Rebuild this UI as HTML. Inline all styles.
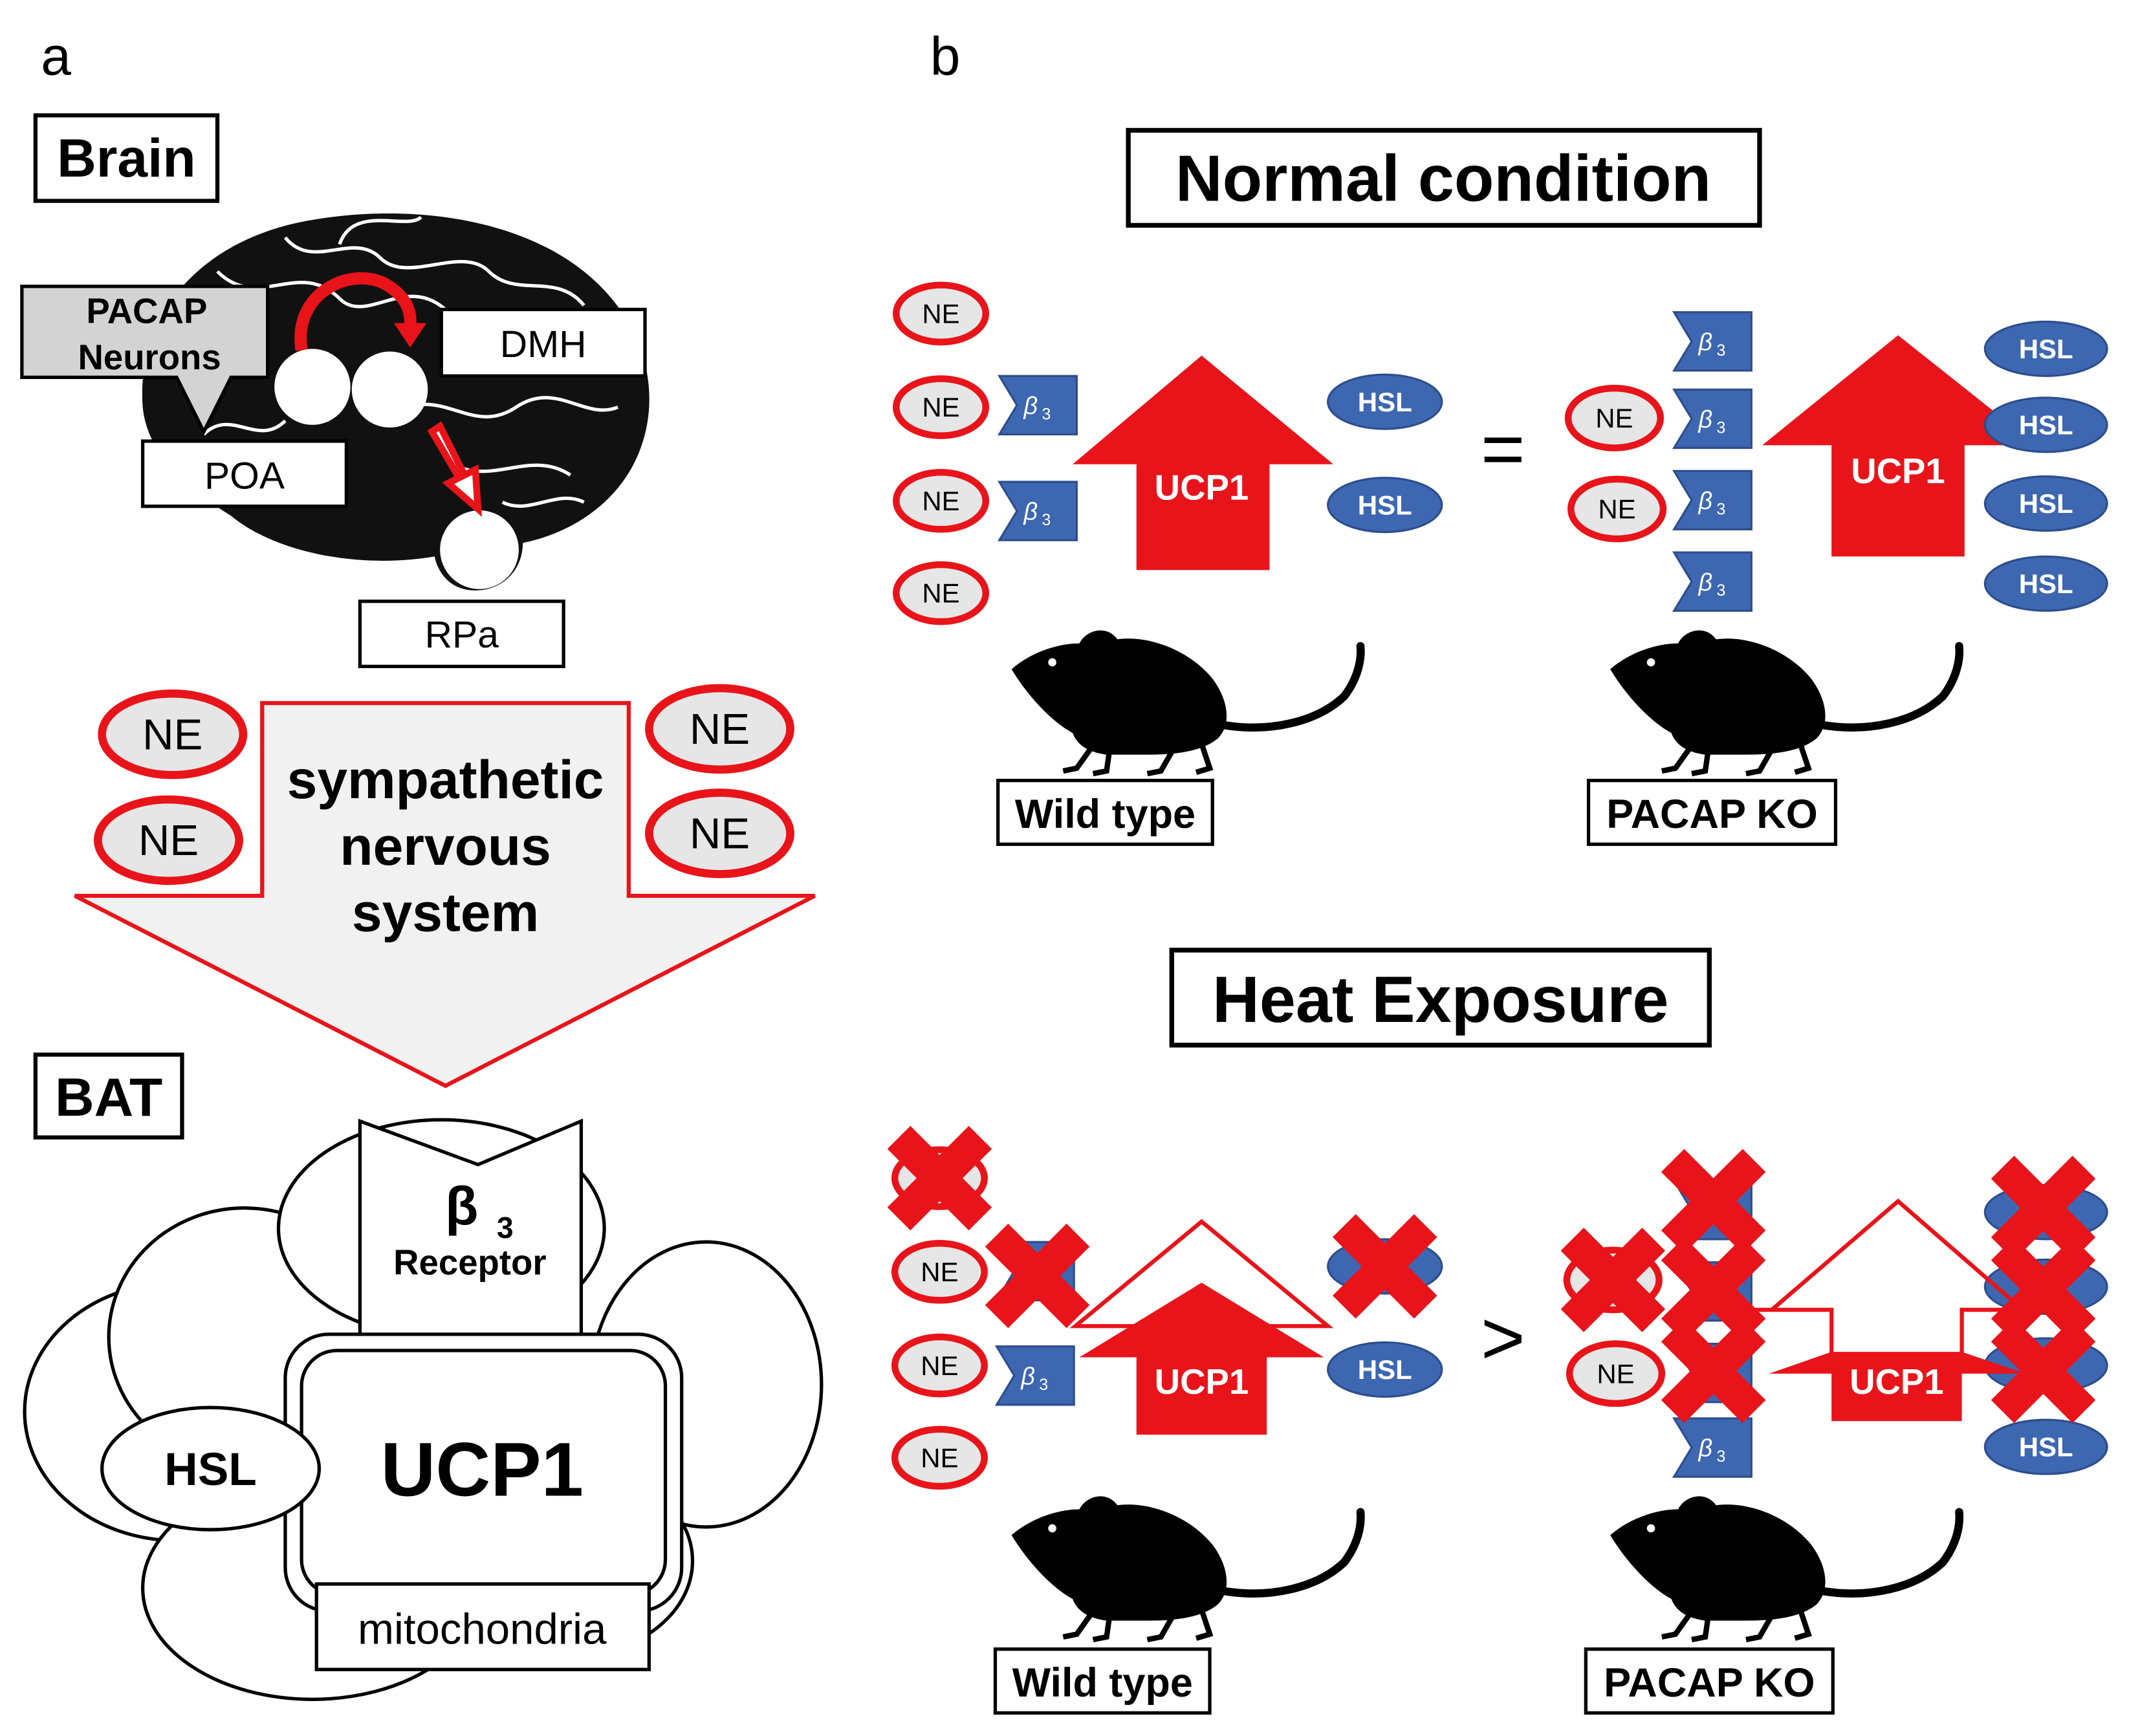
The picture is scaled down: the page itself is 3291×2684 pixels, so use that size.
<!DOCTYPE html>
<html><head><meta charset="utf-8"><style>
html,body{margin:0;padding:0;background:#fff;}
svg{display:block;}
text{font-family:"Liberation Sans",Arial,sans-serif;}
</style></head><body>
<svg width="3291" height="2684" viewBox="0 0 1568 1279" xmlns="http://www.w3.org/2000/svg">
<defs>
<g id="mouse">
 <path d="M0,25 C15,12 35,6 50,6 C55,-4 70,-8 78,3 C100,0 130,10 148,32 C160,48 162,66 152,76 C140,86 120,88 100,88 L70,88 C55,86 48,80 45,72 C30,64 12,45 0,25 Z" fill="#000"/>
 <path d="M155,66 C190,72 225,64 245,45 C255,32 258,18 257,8" fill="none" stroke="#000" stroke-width="6" stroke-linecap="round"/>
 <path d="M58,84 L48,98 L38,100 M72,86 L70,100 L60,102 M118,86 L110,100 L100,102 M140,80 L146,98 L136,101" stroke="#000" stroke-width="4" fill="none"/>
 <circle cx="30" cy="20" r="3" fill="#fff"/>
</g>
<g id="cross">
 <path d="M-30,-30 L30,30 M30,-30 L-30,30" stroke="#e8141a" stroke-width="24"/>
</g>
<polygon id="b3" points="0,0 57,0 57,43 0,43 13,21.5" fill="#3e67b1" stroke="#2c4d8c" stroke-width="1.5"/>
</defs>

<!-- Panel a -->
<text x="30" y="55" font-size="40">a</text>
<rect x="26" y="85" width="134" height="63" fill="#fff" stroke="#000" stroke-width="3"/>
<text x="93" y="130" font-size="40" font-weight="bold" text-anchor="middle">Brain</text>

<path d="M105,300 C100,230 150,175 230,162 C300,150 380,160 430,200 C480,240 490,300 465,345 C445,380 410,395 385,400 C385,420 370,435 350,435 C330,435 322,420 320,410 C260,420 200,405 170,380 C130,355 108,330 105,300 Z" fill="#111"/>
<g stroke="#fff" stroke-width="2.5" fill="none">
<path d="M160,200 C190,230 220,190 250,220 C270,240 300,200 330,230"/>
<path d="M210,175 C230,200 260,170 280,190 C300,210 340,180 360,200 C380,220 410,200 430,225"/>
<path d="M300,300 C330,290 350,320 380,300 C410,280 430,310 455,300"/>
<path d="M330,340 C360,360 390,330 420,350"/>
<path d="M150,320 C170,300 190,330 210,310"/>
<path d="M250,180 C260,150 300,170 310,160"/>
<path d="M400,250 C420,260 440,240 460,260"/>
<path d="M370,370 C390,380 410,360 430,370"/>
</g>
<path d="M16,211 L197,211 L197,278 L170,278 L150,318 L130,278 L16,278 Z" fill="#d3d3d3" stroke="#000" stroke-width="2.5"/>
<text x="108" y="238" font-size="26" font-weight="bold" text-anchor="middle">PACAP</text>
<text x="110" y="272" font-size="26" font-weight="bold" text-anchor="middle">Neurons</text>
<circle cx="230" cy="285" r="28" fill="#fff"/>
<circle cx="287" cy="287" r="28" fill="#fff"/>
<circle cx="353" cy="405" r="29" fill="#fff"/>
<path d="M222,258 C215,215 260,195 285,210 C298,218 303,228 302,240" fill="none" stroke="#e8141a" stroke-width="9"/>
<polygon points="290,238 314,238 302,256" fill="#e8141a"/>
<path d="M318,318 L338,352 L330,356 L352,375 L350,346 L342,350 L324,314 Z" fill="#fff" stroke="#e8141a" stroke-width="5"/>
<rect x="325" y="228" width="150" height="49" fill="#fff" stroke="#000" stroke-width="2.5"/>
<text x="400" y="263" font-size="28" text-anchor="middle">DMH</text>
<rect x="105" y="325" width="150" height="48" fill="#fff" stroke="#000" stroke-width="2.5"/>
<text x="180" y="360" font-size="28" text-anchor="middle">POA</text>
<rect x="265" y="443" width="150" height="48" fill="#fff" stroke="#000" stroke-width="2.5"/>
<text x="340" y="477" font-size="28" text-anchor="middle">RPa</text>

<polygon points="193,518 463,518 463,660 600,660 328,800 55,660 193,660" fill="#f0f1f0" stroke="#e8141a" stroke-width="3"/>
<text x="328" y="588" font-size="40" font-weight="bold" text-anchor="middle">sympathetic</text>
<text x="328" y="637" font-size="40" font-weight="bold" text-anchor="middle">nervous</text>
<text x="328" y="686" font-size="40" font-weight="bold" text-anchor="middle">system</text>
<g fill="#e6e6e6" stroke="#e8141a" stroke-width="6">
<ellipse cx="127" cy="541" rx="52" ry="30"/><ellipse cx="124" cy="619" rx="52" ry="30"/>
<ellipse cx="530" cy="537" rx="52" ry="30"/><ellipse cx="530" cy="614" rx="52" ry="30"/>
</g>
<g font-size="32" text-anchor="middle"><text x="127" y="552">NE</text><text x="124" y="630">NE</text><text x="530" y="548">NE</text><text x="530" y="625">NE</text></g>

<rect x="26" y="777" width="108" height="61" fill="#fff" stroke="#000" stroke-width="3"/>
<text x="80" y="822" font-size="40" font-weight="bold" text-anchor="middle">BAT</text>

<g fill="#fff" stroke="#000" stroke-width="2.5">
<ellipse cx="130" cy="1040" rx="112" ry="95"/>
<ellipse cx="180" cy="985" rx="100" ry="95"/>
<ellipse cx="230" cy="1170" rx="125" ry="82"/>
<ellipse cx="325" cy="905" rx="120" ry="80"/>
<ellipse cx="520" cy="1020" rx="85" ry="105"/>
<ellipse cx="420" cy="1150" rx="90" ry="70"/>
</g>
<polygon points="265,826 352,858 428,826 428,985 265,985" fill="#fff" stroke="#000" stroke-width="2.5"/>
<text x="340" y="902" font-size="40" font-weight="bold" text-anchor="middle">β</text>
<text x="372" y="912" font-size="22" font-weight="bold" text-anchor="middle">3</text>
<text x="346" y="939" font-size="26" font-weight="bold" text-anchor="middle">Receptor</text>
<rect x="210" y="983" width="292" height="204" rx="32" fill="#fff" stroke="#000" stroke-width="2.5"/>
<rect x="222" y="995" width="268" height="180" rx="26" fill="#fff" stroke="#000" stroke-width="2.5"/>
<text x="355" y="1102" font-size="56" font-weight="bold" text-anchor="middle">UCP1</text>
<ellipse cx="155" cy="1082" rx="80" ry="45" fill="#fff" stroke="#000" stroke-width="2.5"/>
<text x="155" y="1094" font-size="34" font-weight="bold" text-anchor="middle">HSL</text>
<rect x="233" y="1167" width="245" height="63" fill="#fff" stroke="#000" stroke-width="2.5"/>
<text x="355" y="1211" font-size="32" text-anchor="middle">mitochondria</text>

<!-- Panel b -->
<text x="685" y="55" font-size="40">b</text>
<rect x="831" y="96" width="465" height="70" fill="#fff" stroke="#000" stroke-width="3.5"/>
<text x="1063" y="148" font-size="48" font-weight="bold" text-anchor="middle">Normal condition</text>

<g fill="#e6e6e6" stroke="#e8141a" stroke-width="5">
<ellipse cx="693" cy="231" rx="33" ry="21"/><ellipse cx="693" cy="300" rx="33" ry="21"/>
<ellipse cx="693" cy="369" rx="33" ry="21"/><ellipse cx="693" cy="437" rx="33" ry="21"/>
<ellipse cx="1189" cy="308" rx="34" ry="22"/><ellipse cx="1191" cy="375" rx="34" ry="22"/>
<ellipse cx="692" cy="937" rx="33" ry="21"/><ellipse cx="692" cy="1006" rx="33" ry="21"/>
<ellipse cx="692" cy="1074" rx="33" ry="21"/><ellipse cx="692" cy="868" rx="33" ry="21"/>
<ellipse cx="1190" cy="1012" rx="34" ry="22"/><ellipse cx="1188" cy="943" rx="34" ry="22"/>
</g>
<g font-size="20" text-anchor="middle">
<text x="693" y="238">NE</text><text x="693" y="307">NE</text><text x="693" y="376">NE</text><text x="693" y="444">NE</text>
<text x="1189" y="315">NE</text><text x="1191" y="382">NE</text>
<text x="692" y="944">NE</text><text x="692" y="1013">NE</text><text x="692" y="1081">NE</text>
<text x="1190" y="1019">NE</text>
</g>

<g>
<use href="#b3" x="736" y="277"/><use href="#b3" x="736" y="355"/>
<use href="#b3" x="1233" y="230"/><use href="#b3" x="1233" y="287"/><use href="#b3" x="1233" y="347"/><use href="#b3" x="1233" y="407"/>
<use href="#b3" x="734" y="992"/><use href="#b3" x="734" y="915"/>
<use href="#b3" x="1233" y="1045"/><use href="#b3" x="1233" y="870"/><use href="#b3" x="1233" y="930"/><use href="#b3" x="1233" y="990"/>
</g>
<g fill="#fff" font-size="18" font-style="italic">
<text x="754" y="305">β<tspan font-size="12" dx="3" dy="4" font-style="normal">3</tspan></text>
<text x="754" y="383">β<tspan font-size="12" dx="3" dy="4" font-style="normal">3</tspan></text>
<text x="1251" y="258">β<tspan font-size="12" dx="3" dy="4" font-style="normal">3</tspan></text>
<text x="1251" y="315">β<tspan font-size="12" dx="3" dy="4" font-style="normal">3</tspan></text>
<text x="1251" y="375">β<tspan font-size="12" dx="3" dy="4" font-style="normal">3</tspan></text>
<text x="1251" y="435">β<tspan font-size="12" dx="3" dy="4" font-style="normal">3</tspan></text>
<text x="752" y="1020">β<tspan font-size="12" dx="3" dy="4" font-style="normal">3</tspan></text>
<text x="1251" y="1073">β<tspan font-size="12" dx="3" dy="4" font-style="normal">3</tspan></text>
</g>

<polygon points="885,262 982,342 935,342 935,420 837,420 837,342 790,342" fill="#e8141a"/>
<text x="885" y="368" font-size="26" font-weight="bold" fill="#fff" text-anchor="middle">UCP1</text>
<polygon points="1398,247 1500,328 1447,328 1447,410 1349,410 1349,328 1298,328" fill="#e8141a"/>
<text x="1398" y="356" font-size="26" font-weight="bold" fill="#fff" text-anchor="middle">UCP1</text>

<g fill="#3e67b1" stroke="#2c4d8c" stroke-width="1.5">
<ellipse cx="1020" cy="296" rx="42" ry="20"/><ellipse cx="1020" cy="372" rx="42" ry="20"/>
<ellipse cx="1507" cy="257" rx="45" ry="20"/><ellipse cx="1507" cy="313" rx="45" ry="20"/>
<ellipse cx="1507" cy="371" rx="45" ry="20"/><ellipse cx="1507" cy="430" rx="45" ry="20"/>
<ellipse cx="1020" cy="933" rx="42" ry="20"/><ellipse cx="1020" cy="1009" rx="42" ry="20"/>
<ellipse cx="1507" cy="893" rx="45" ry="20"/><ellipse cx="1507" cy="948" rx="45" ry="20"/>
<ellipse cx="1507" cy="1006" rx="45" ry="20"/><ellipse cx="1507" cy="1066" rx="45" ry="20"/>
</g>
<g fill="#fff" font-size="20" font-weight="bold" text-anchor="middle">
<text x="1020" y="303">HSL</text><text x="1020" y="379">HSL</text>
<text x="1507" y="264">HSL</text><text x="1507" y="320">HSL</text><text x="1507" y="378">HSL</text><text x="1507" y="437">HSL</text>
<text x="1020" y="1016">HSL</text><text x="1507" y="1073">HSL</text>
</g>
<text x="1107" y="350" font-size="56" text-anchor="middle">=</text>

<use href="#mouse" x="745" y="468"/>
<use href="#mouse" x="1186" y="468"/>
<rect x="735" y="575" width="158" height="47" fill="#fff" stroke="#000" stroke-width="2.5"/>
<text x="814" y="610" font-size="30" font-weight="bold" text-anchor="middle">Wild type</text>
<rect x="1170" y="575" width="182" height="47" fill="#fff" stroke="#000" stroke-width="2.5"/>
<text x="1261" y="610" font-size="30" font-weight="bold" text-anchor="middle">PACAP KO</text>

<rect x="863" y="700" width="396" height="70" fill="#fff" stroke="#000" stroke-width="3.5"/>
<text x="1061" y="753" font-size="48" font-weight="bold" text-anchor="middle">Heat Exposure</text>

<!-- heat WT -->
<polygon points="885,900 978,977 792,977" fill="none" stroke="#e8141a" stroke-width="3"/>
<polygon points="885,945 975,1000 933,1000 933,1057 837,1057 837,1000 795,1000" fill="#e8141a"/>
<text x="885" y="1027" font-size="26" font-weight="bold" fill="#fff" text-anchor="middle">UCP1</text>
<text x="1107" y="1005" font-size="56" text-anchor="middle">&gt;</text>
<!-- heat KO -->
<polyline points="1305,965 1398,885 1490,965" fill="none" stroke="#e8141a" stroke-width="3"/>
<polyline points="1290,965 1349,965 1349,1000" fill="none" stroke="#e8141a" stroke-width="3"/>
<polyline points="1505,965 1445,965 1445,1000" fill="none" stroke="#e8141a" stroke-width="3"/>
<polygon points="1303,1012 1349,996 1445,996 1492,1012 1445,1012 1445,1047 1349,1047 1349,1012" fill="#e8141a"/>
<text x="1397" y="1027" font-size="26" font-weight="bold" fill="#fff" text-anchor="middle">UCP1</text>

<g>
<use href="#cross" x="692" y="868"/><use href="#cross" x="764" y="940"/><use href="#cross" x="1020" y="933"/>
<use href="#cross" x="1188" y="943"/>
<use href="#cross" x="1262" y="885"/><use href="#cross" x="1262" y="950"/><use href="#cross" x="1262" y="1010"/>
<use href="#cross" x="1505" y="890"/><use href="#cross" x="1505" y="950"/><use href="#cross" x="1505" y="1010"/>
</g>

<use href="#mouse" x="745" y="1106"/>
<use href="#mouse" x="1186" y="1106"/>
<rect x="733" y="1215" width="158" height="47" fill="#fff" stroke="#000" stroke-width="2.5"/>
<text x="812" y="1250" font-size="30" font-weight="bold" text-anchor="middle">Wild type</text>
<rect x="1168" y="1215" width="182" height="47" fill="#fff" stroke="#000" stroke-width="2.5"/>
<text x="1259" y="1250" font-size="30" font-weight="bold" text-anchor="middle">PACAP KO</text>
</svg>
</body></html>
